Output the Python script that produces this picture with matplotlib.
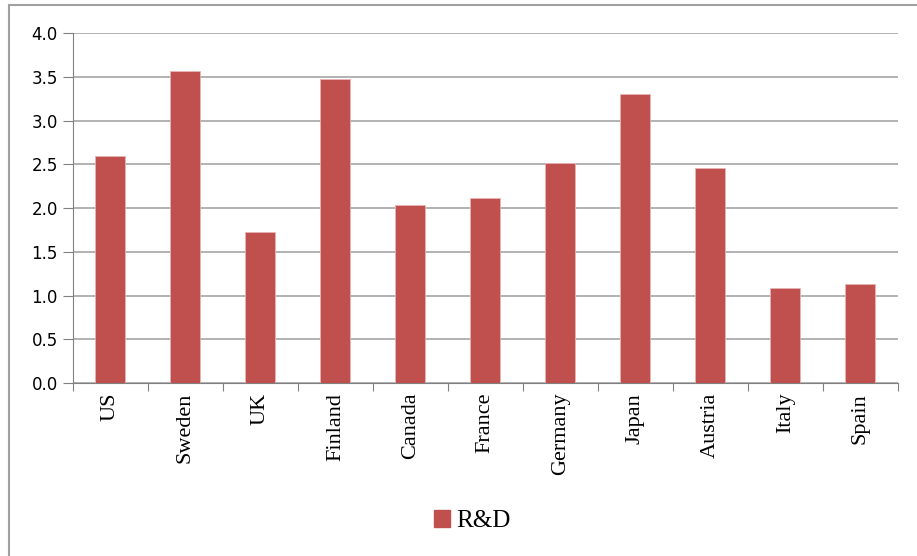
import numpy as np
import matplotlib.pyplot as plt
from matplotlib.patches import Rectangle, Patch

# R&D spending by country
countries = ["US", "Sweden", "UK", "Finland", "Canada", "France",
             "Germany", "Japan", "Austria", "Italy", "Spain"]
rnd = [2.60, 3.57, 1.73, 3.48, 2.04, 2.11, 2.51, 3.30, 2.46, 1.09, 1.13]

bar_color = "#C0504D"
grid_color = "#A6A6A6"

fig = plt.figure(figsize=(9.17, 5.56), dpi=100)
ax = fig.add_axes([0.0796, 0.311, 0.8994, 0.6295])

x = np.arange(len(countries))
ax.bar(x, rnd, width=0.4, color=bar_color, edgecolor="#E8B5B4", linewidth=0.6, zorder=3)

ax.set_xlim(-0.5, len(countries) - 0.5)
ax.set_ylim(0, 4.0)
ax.set_yticks(np.arange(0, 4.01, 0.5))
ax.set_yticklabels([f"{v:.1f}" for v in np.arange(0, 4.01, 0.5)],
                   fontsize=12, family="DejaVu Sans")
ax.yaxis.grid(True, color=grid_color, linewidth=1.2, zorder=0)

# x ticks at category boundaries, labels at centres
ax.set_xticks(np.arange(-0.5, len(countries), 1.0))
ax.set_xticklabels([])
ax.set_xticks(x, minor=True)
ax.set_xticklabels(countries, minor=True, rotation=90, fontsize=16,
                   family="Liberation Serif")
ax.tick_params(axis="x", which="minor", length=0, pad=7)
ax.tick_params(axis="x", which="major", length=6, color="#808080")
ax.tick_params(axis="y", length=7, color="#808080", pad=4)

for s in ["top", "right"]:
    ax.spines[s].set_visible(False)
for s in ["left", "bottom"]:
    ax.spines[s].set_color("#808080")

leg = fig.legend(handles=[Patch(color=bar_color, label="R&D")],
                 loc="center", bbox_to_anchor=(0.515, 0.063), frameon=False,
                 prop={"family": "Liberation Serif", "size": 18},
                 handlelength=0.65, handleheight=0.65, handletextpad=0.25)

# outer chart border
fig.patches.append(Rectangle((9 / 917, -0.05), 1.0, 1 - 5 / 556 + 0.05,
                             transform=fig.transFigure, fill=False,
                             edgecolor="#A0A0A0", linewidth=1.5))

fig.savefig("out.png", dpi=100)
